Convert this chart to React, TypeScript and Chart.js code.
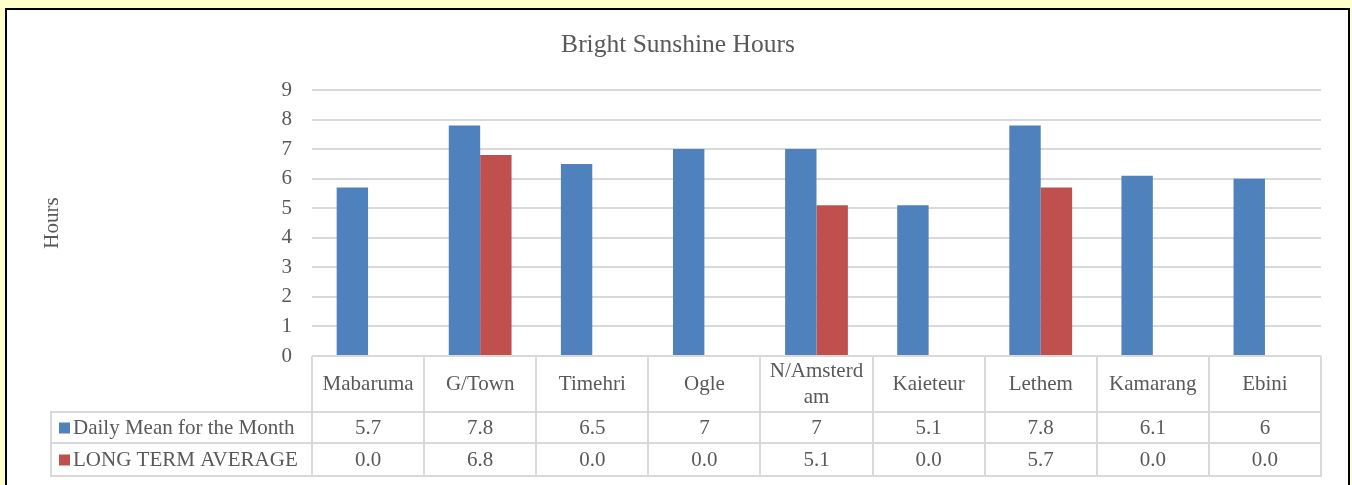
import React, { useEffect, useRef } from "react";
import { Chart, registerables } from "chart.js";

Chart.register(...registerables);

const chartTitle = "Bright Sunshine Hours";
const yAxisTitle = "Hours";
const categories: string[][] = [
  ["Mabaruma"],
  ["G/Town"],
  ["Timehri"],
  ["Ogle"],
  ["N/Amsterd", "am"],
  ["Kaieteur"],
  ["Lethem"],
  ["Kamarang"],
  ["Ebini"],
];
const seriesNames = ["Daily Mean for the Month", "LONG TERM AVERAGE"];
const dailyMean = [5.7, 7.8, 6.5, 7, 7, 5.1, 7.8, 6.1, 6];
const longTermAverage = [0, 6.8, 0, 0, 5.1, 0, 5.7, 0, 0];
const dailyMeanLabels = ["5.7", "7.8", "6.5", "7", "7", "5.1", "7.8", "6.1", "6"];
const longTermLabels = ["0.0", "6.8", "0.0", "0.0", "5.1", "0.0", "5.7", "0.0", "0.0"];
const yMin = 0;
const yMax = 9;
const yStep = 1;

const seriesColors = ["#4F81BD", "#C0504D"];
const FONT = "'Liberation Serif', 'Times New Roman', serif";
const TEXT = "#595959";
const GRID = "#d9d9d9";

const tablePlugin = {
  id: "dataTable",
  afterDraw(chart: any) {
    const { ctx, chartArea } = chart;
    const left = chartArea.left;
    const right = chartArea.right;
    const n = categories.length;
    const colW = (right - left) / n;
    const catTop = chartArea.bottom;
    const catBottom = catTop + 56;
    const row1Bottom = catBottom + 31;
    const row2Bottom = row1Bottom + 33;
    const legendLeft = 51;

    ctx.save();
    ctx.strokeStyle = GRID;
    ctx.lineWidth = 2;
    ctx.beginPath();
    for (let i = 0; i <= n; i++) {
      const x = Math.round(left + i * colW);
      ctx.moveTo(x, catTop);
      ctx.lineTo(x, row2Bottom);
    }
    ctx.moveTo(legendLeft, catBottom);
    ctx.lineTo(legendLeft, row2Bottom);
    [catBottom, row1Bottom, row2Bottom].forEach((y) => {
      ctx.moveTo(legendLeft - 1, y);
      ctx.lineTo(right + 1, y);
    });
    ctx.stroke();

    ctx.fillStyle = TEXT;
    ctx.font = `21px ${FONT}`;
    ctx.textAlign = "center";
    ctx.textBaseline = "middle";
    categories.forEach((lines, i) => {
      const cx = left + (i + 0.5) * colW;
      const lh = 26;
      const cy = (catTop + catBottom) / 2;
      lines.forEach((line, j) => {
        ctx.fillText(line, cx, cy + (j - (lines.length - 1) / 2) * lh);
      });
      ctx.fillText(dailyMeanLabels[i], cx, (catBottom + row1Bottom) / 2 + 1);
      ctx.fillText(longTermLabels[i], cx, (row1Bottom + row2Bottom) / 2 + 1);
    });

    const rows = [
      [(catBottom + row1Bottom) / 2, 0],
      [(row1Bottom + row2Bottom) / 2, 1],
    ];
    ctx.textAlign = "left";
    rows.forEach(([cy, s]) => {
      ctx.fillStyle = seriesColors[s];
      ctx.fillRect(59, cy - 5, 11, 11);
      ctx.fillStyle = TEXT;
      ctx.fillText(seriesNames[s], 73, cy + 1);
    });

    // chart title
    ctx.font = `25.5px ${FONT}`;
    ctx.textAlign = "center";
    ctx.fillText(chartTitle, 678, 45);

    ctx.font = `21px ${FONT}`;
    ctx.translate(52, (chartArea.top + chartArea.bottom) / 2);
    ctx.rotate(-Math.PI / 2);
    ctx.textAlign = "center";
    ctx.fillText(yAxisTitle, 0, 0);
    ctx.restore();
  },
};

export default function App() {
  const canvasRef = useRef<HTMLCanvasElement | null>(null);

  useEffect(() => {
    if (!canvasRef.current) return;
    const chart = new Chart(canvasRef.current, {
      type: "bar",
      data: {
        labels: categories.map((c) => c.join("")),
        datasets: [
          {
            label: seriesNames[0],
            data: dailyMean,
            backgroundColor: seriesColors[0],
            categoryPercentage: 0.56,
            barPercentage: 1,
          },
          {
            label: seriesNames[1],
            data: longTermAverage,
            backgroundColor: seriesColors[1],
            categoryPercentage: 0.56,
            barPercentage: 1,
          },
        ],
      },
      options: {
        responsive: false,
        animation: false,
        layout: { padding: { left: 0, right: 31, top: 90, bottom: 0 } },
        plugins: {
          legend: { display: false },
          tooltip: { enabled: false },
          title: { display: false },
        },
        scales: {
          x: {
            ticks: { display: false },
            grid: { display: false },
            border: { display: false },
            afterFit(scale: any) {
              scale.height = 129;
            },
          },
          y: {
            min: yMin,
            max: yMax,
            ticks: {
              stepSize: yStep,
              padding: 20,
              color: TEXT,
              font: { family: FONT, size: 21 },
            },
            grid: { color: GRID, lineWidth: 2, drawTicks: false },
            border: { display: false },
            afterFit(scale: any) {
              scale.width = 312;
            },
          },
        },
      },
      plugins: [tablePlugin],
    });
    return () => chart.destroy();
  }, []);

  return (
    <div
      style={{
        position: "fixed",
        left: 0,
        top: 0,
        width: 1352,
        height: 485,
        background: "#FFFFCC",
        overflow: "hidden",
      }}
    >
      <div
        style={{
          position: "absolute",
          left: 5,
          top: 8,
          width: 1345,
          height: 520,
          boxSizing: "border-box",
          border: "2px solid #000",
          background: "#fff",
        }}
      />
      <canvas
        ref={canvasRef}
        width={1352}
        height={485}
        style={{ position: "absolute", left: 0, top: 0, width: 1352, height: 485 }}
      />
    </div>
  );
}
